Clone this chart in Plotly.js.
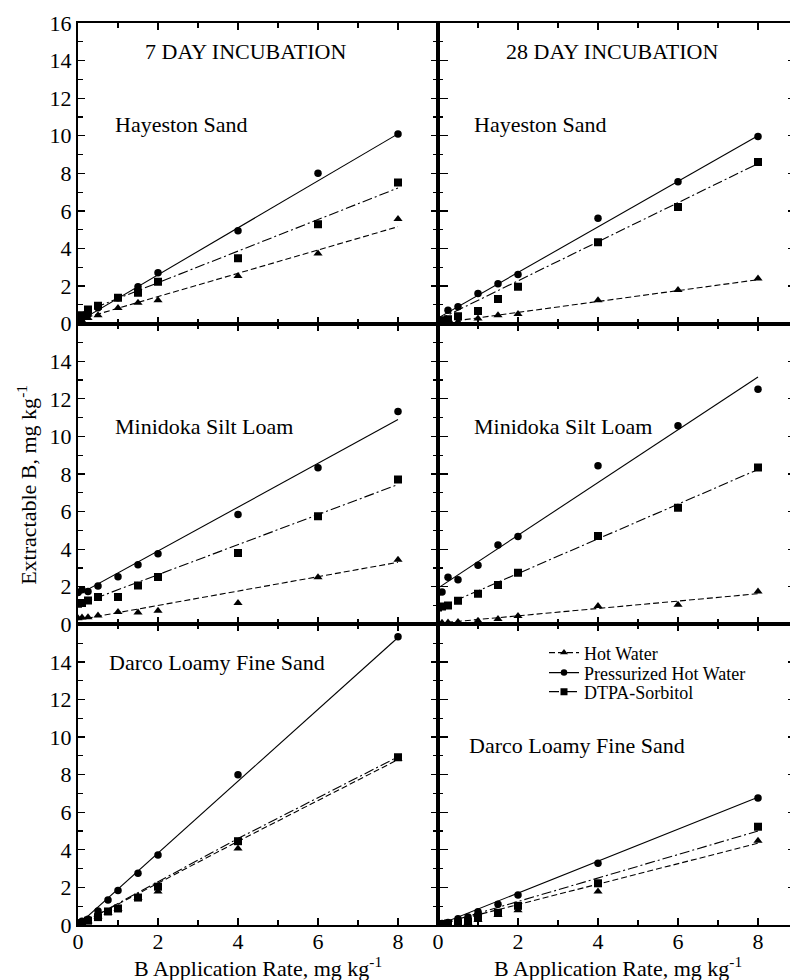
<!DOCTYPE html>
<html>
<head>
<meta charset="utf-8">
<script src="https://cdn.plot.ly/plotly-3.0.1.min.js"></script>
<style>html,body{margin:0;padding:0;background:#fff;overflow:hidden;}#chart{width:798px;height:980px;}</style>
</head>
<body>
<div id="chart"></div>
<script>
// ---------- DATA ----------
const seriesNames = ["Hot Water", "Pressurized Hot Water", "DTPA-Sorbitol"];
const xStd = [0, 0.1, 0.25, 0.5, 1, 1.5, 2, 4, 6, 8];
const xDarco = [0, 0.1, 0.25, 0.5, 0.75, 1, 1.5, 2, 4, 8];
const fitX = [0, 4, 8];

// Hayeston Sand, 7 day
const hay7HW   = [0.1, 0.15, 0.3, 0.45, 0.84, 1.11, 1.25, 2.53, 3.74, 5.57];
const hay7PHW  = [0.15, 0.3, 0.5, 0.85, 1.38, 1.96, 2.71, 4.95, 8.01, 10.09];
const hay7DTPA = [0.2, 0.45, 0.76, 0.95, 1.38, 1.64, 2.23, 3.48, 5.29, 7.51];
const hay7FitHW = [0.2, 2.68, 5.16];
const hay7FitPHW = [0.1, 5.1, 10.1];
const hay7FitDTPA = [0.5, 3.86, 7.22];

// Hayeston Sand, 28 day
const hay28HW   = [0.05, 0.05, 0.08, 0.1, 0.28, 0.45, 0.51, 1.25, 1.79, 2.41];
const hay28PHW  = [0.1, 0.2, 0.72, 0.9, 1.61, 2.12, 2.62, 5.61, 7.55, 9.96];
const hay28DTPA = [0.1, 0.15, 0.24, 0.4, 0.67, 1.31, 1.96, 4.33, 6.21, 8.6];
const hay28FitHW = [0.02, 1.18, 2.34];
const hay28FitPHW = [0.3, 5.15, 10.0];
const hay28FitDTPA = [0.2, 4.36, 8.52];

// Minidoka Silt Loam, 7 day
const min7HW   = [0.33, 0.36, 0.38, 0.47, 0.65, 0.63, 0.72, 1.13, 2.5, 3.44];
const min7PHW  = [1.7, 1.84, 1.75, 2.04, 2.53, 3.17, 3.76, 5.84, 8.33, 11.32];
const min7DTPA = [1.1, 1.13, 1.27, 1.45, 1.45, 2.07, 2.52, 3.8, 5.75, 7.71];
const min7FitHW = [0.24, 1.77, 3.3];
const min7FitPHW = [1.57, 6.24, 10.9];
const min7FitDTPA = [1.04, 4.24, 7.44];

// Minidoka Silt Loam, 28 day
const min28HW   = [0.07, 0.08, 0.1, 0.12, 0.19, 0.28, 0.45, 0.97, 1.04, 1.75];
const min28PHW  = [1.7, 1.72, 2.5, 2.37, 3.14, 4.22, 4.68, 8.44, 10.57, 12.51];
const min28DTPA = [0.9, 0.95, 1.0, 1.25, 1.63, 2.09, 2.75, 4.7, 6.21, 8.35];
const min28FitHW = [0.06, 0.85, 1.63];
const min28FitPHW = [1.93, 7.55, 13.16];
const min28FitDTPA = [0.86, 4.55, 8.24];

// Darco Loamy Fine Sand, 7 day
const dar7HW   = [0.03, 0.08, 0.2, 0.45, 0.65, 0.85, 1.45, 1.78, 4.07, 8.85];
const dar7PHW  = [0.08, 0.2, 0.3, 0.75, 1.33, 1.83, 2.76, 3.72, 8.0, 15.34];
const dar7DTPA = [0.05, 0.1, 0.23, 0.42, 0.72, 0.88, 1.46, 2.04, 4.46, 8.92];
const dar7FitHW = [0, 4.45, 8.8];
const dar7FitPHW = [0, 7.65, 15.3];
const dar7FitDTPA = [0, 4.6, 8.95];

// Darco Loamy Fine Sand, 28 day
const dar28HW   = [0.02, 0.04, 0.06, 0.08, 0.13, 0.27, 0.53, 0.78, 1.78, 4.48];
const dar28PHW  = [0.05, 0.08, 0.13, 0.33, 0.42, 0.7, 1.1, 1.6, 3.29, 6.76];
const dar28DTPA = [0.03, 0.05, 0.08, 0.1, 0.18, 0.42, 0.65, 1.02, 2.22, 5.23];
const dar28FitHW = [0, 2.17, 4.35];
const dar28FitPHW = [0, 3.4, 6.8];
const dar28FitDTPA = [0, 2.5, 5.0];

const panelLabels = ["Hayeston Sand", "Hayeston Sand", "Minidoka Silt Loam", "Minidoka Silt Loam", "Darco Loamy Fine Sand", "Darco Loamy Fine Sand"];
const columnTitles = ["7 DAY INCUBATION", "28 DAY INCUBATION"];
const xTickLabels = [0, 2, 4, 6, 8];
const yTickTop = [0, 2, 4, 6, 8, 10, 12, 14, 16];
const yTickLower = [0, 2, 4, 6, 8, 10, 12, 14];

// ---------- STYLES ----------
const FONT = "Liberation Serif, Times New Roman, serif";
const dashHW = "6px,3px";
const dashDTPA = "10px,3px,2px,3px";
const styles = [
  {symbol: "triangle-up", size: 8, dash: dashHW},
  {symbol: "circle", size: 7.5, dash: "solid"},
  {symbol: "square", size: 8, dash: dashDTPA}
];

const panels = [
  {x: xStd,   data: [hay7HW, hay7PHW, hay7DTPA],    fit: [hay7FitHW, hay7FitPHW, hay7FitDTPA]},
  {x: xStd,   data: [hay28HW, hay28PHW, hay28DTPA], fit: [hay28FitHW, hay28FitPHW, hay28FitDTPA]},
  {x: xStd,   data: [min7HW, min7PHW, min7DTPA],    fit: [min7FitHW, min7FitPHW, min7FitDTPA]},
  {x: xStd,   data: [min28HW, min28PHW, min28DTPA], fit: [min28FitHW, min28FitPHW, min28FitDTPA]},
  {x: xDarco, data: [dar7HW, dar7PHW, dar7DTPA],    fit: [dar7FitHW, dar7FitPHW, dar7FitDTPA]},
  {x: xDarco, data: [dar28HW, dar28PHW, dar28DTPA], fit: [dar28FitHW, dar28FitPHW, dar28FitDTPA]}
];

const traces = [];
panels.forEach((p, i) => {
  const xa = i === 0 ? "x" : "x" + (i + 1);
  const ya = i === 0 ? "y" : "y" + (i + 1);
  p.fit.forEach((f, s) => {
    traces.push({type: "scatter", mode: "lines", x: fitX, y: f, xaxis: xa, yaxis: ya,
      line: {color: "#000", width: 1.1, dash: styles[s].dash}, showlegend: false, hoverinfo: "skip"});
  });
  p.data.forEach((d, s) => {
    traces.push({type: "scatter", mode: "markers", x: p.x, y: d, xaxis: xa, yaxis: ya,
      marker: {color: "#000", symbol: styles[s].symbol, size: styles[s].size}, showlegend: false, name: seriesNames[s]});
  });
});
// legend entries (one legend per row for exact row spacing)
const legendIds = ["legend", "legend2", "legend3"];
seriesNames.forEach((n, s) => {
  traces.push({type: "scatter", mode: "lines+markers", x: [null], y: [null], xaxis: "x6", yaxis: "y6",
    name: n, legend: legendIds[s], line: {color: "#000", width: 1.1, dash: styles[s].dash},
    marker: {color: "#000", symbol: styles[s].symbol, size: styles[s].size - 1}, showlegend: true});
});

const W = 798, L = 78, PW = W - L;
const layout = {
  width: W, height: 980,
  margin: {l: L, r: 0, t: 23, b: 55},
  paper_bgcolor: "#fff", plot_bgcolor: "rgba(0,0,0,0)",
  font: {family: FONT, size: 22, color: "#000"},
  showlegend: true,
  annotations: [],
  hovermode: false
};
const legendTops = [0.3222, 0.3000, 0.2789];
legendIds.forEach((id, k) => {
  layout[id] = {x: (544 - L) / PW, y: legendTops[k], xanchor: "left", yanchor: "top", bgcolor: "rgba(0,0,0,0)",
    font: {family: FONT, size: 18, color: "#000"}, itemwidth: 30};
});

const split = 0.5;
const rowsDom = [[2/3, 1], [1/3, 2/3], [0, 1/3]];
for (let i = 0; i < 6; i++) {
  const col = i % 2, row = Math.floor(i / 2);
  const xk = i === 0 ? "xaxis" : "xaxis" + (i + 1);
  const yk = i === 0 ? "yaxis" : "yaxis" + (i + 1);
  const yid = i === 0 ? "y" : "y" + (i + 1);
  const xid = i === 0 ? "x" : "x" + (i + 1);
  layout[xk] = {
    domain: col === 0 ? [0, split] : [split, 1],
    range: [0, 9],
    anchor: yid, showline: true, linecolor: "#000", linewidth: 2, mirror: "ticks",
    ticks: "inside", ticklen: 7, tickwidth: 1.3, tickcolor: "#000",
    tickmode: "array", tickvals: xTickLabels, ticktext: xTickLabels.map(String),
    minor: {tickmode: "linear", tick0: 0, dtick: 1, ticks: "inside", ticklen: 5, tickwidth: 1.1, tickcolor: "#000", showgrid: false},
    showticklabels: row === 2, showgrid: false, zeroline: false,
    ticklabelstandoff: -4,
    tickfont: {family: FONT, size: 22, color: "#000"}
  };
  const tv = row === 0 ? yTickTop : yTickLower;
  layout[yk] = {
    domain: rowsDom[row], range: [0, 16], anchor: xid,
    showline: true, linecolor: "#000", linewidth: 2, mirror: "ticks",
    ticks: "inside", ticklen: col === 1 ? 10 : 7, tickwidth: 1.3, tickcolor: "#000",
    tickmode: "array", tickvals: tv, ticktext: tv.map(String),
    minor: {tickmode: "linear", tick0: 0, dtick: 1, ticks: "inside", ticklen: 5, tickwidth: 1.1, tickcolor: "#000", showgrid: false},
    showticklabels: col === 0, showgrid: false, zeroline: false,
    tickfont: {family: FONT, size: 22, color: "#000"}
  };
}

// panel annotations
const labelPos = [
  {x: 0.87, y: 10.6}, {x: 0.84, y: 10.6},
  {x: 0.87, y: 10.55}, {x: 0.84, y: 10.55},
  {x: 0.72, y: 13.96}, {x: 0.72, y: 9.55}
];
panelLabels.forEach((t, i) => {
  layout.annotations.push({text: t, xref: i === 0 ? "x" : "x" + (i + 1), yref: i === 0 ? "y" : "y" + (i + 1),
    x: labelPos[i].x, y: labelPos[i].y, xanchor: "left", yanchor: "middle", showarrow: false,
    font: {family: FONT, size: 22, color: "#000"}});
});
layout.annotations.push({text: columnTitles[0], xref: "x", yref: "y", x: 4.18, y: 14.5, xanchor: "center", yanchor: "middle", showarrow: false, font: {family: FONT, size: 22, color: "#000"}});
layout.annotations.push({text: columnTitles[1], xref: "x2", yref: "y2", x: 4.35, y: 14.5, xanchor: "center", yanchor: "middle", showarrow: false, font: {family: FONT, size: 22, color: "#000"}});
// axis titles
const xTitle = "B Application Rate, mg kg<sup>-1</sup>";
layout.annotations.push({text: xTitle, xref: "x5", yref: "paper", x: 4.5, y: -0.0466, xanchor: "center", yanchor: "middle", showarrow: false, font: {family: FONT, size: 22, color: "#000"}});
layout.annotations.push({text: xTitle, xref: "x6", yref: "paper", x: 4.5, y: -0.0466, xanchor: "center", yanchor: "middle", showarrow: false, font: {family: FONT, size: 22, color: "#000"}});
layout.annotations.push({text: "Extractable B, mg kg<sup>-1</sup>", xref: "paper", yref: "paper", x: (27 - L) / PW, y: 0.488, xanchor: "center", yanchor: "middle", textangle: -90, showarrow: false, font: {family: FONT, size: 22, color: "#000"}});

Plotly.newPlot("chart", traces, layout, {displayModeBar: false, staticPlot: true});
</script>
</body>
</html>
